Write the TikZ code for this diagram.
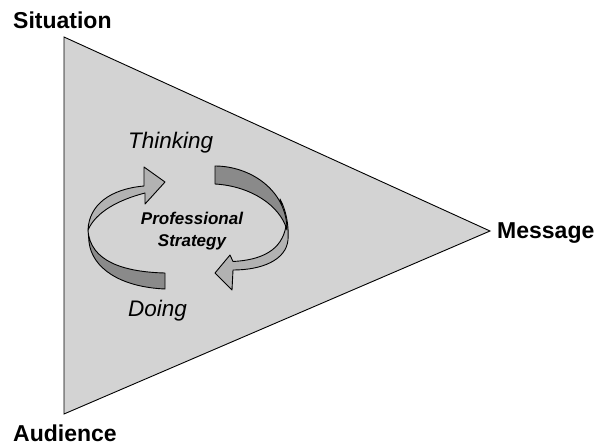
\documentclass[tikz,border=0pt]{standalone}
\usepackage{fontspec}
\setmainfont{Liberation Sans}
\usetikzlibrary{positioning}
\definecolor{plane}{RGB}{211,211,211}
\definecolor{lightband}{RGB}{178,178,178}
\definecolor{darkband}{RGB}{138,138,138}

\begin{document}
\begin{tikzpicture}[x=1pt, y=-1pt]
\tikzstyle{corner} = [font=\fontsize{23}{23}\selectfont\bfseries, inner sep=0pt, anchor=base west]
\tikzstyle{phase} = [font=\fontsize{22.5}{23}\selectfont\itshape, inner sep=0pt, anchor=base west]
\tikzstyle{core} = [font=\fontsize{17}{22}\selectfont\bfseries\itshape, align=center, inner sep=0pt]
\tikzstyle{lightpart} = [fill=lightband, draw=black, line width=0.9pt, line join=round]
\tikzstyle{darkpart} = [fill=darkband, draw=black, line width=0.9pt, line join=round]

\useasboundingbox (0,0) rectangle (601,447);

    % triangle
    \coordinate (top) at (64,37);
    \coordinate (bottom) at (64,414);
    \coordinate (tip) at (490,231);
    \draw [fill=plane, line width=0.9pt] (top) -- (tip) -- (bottom) -- cycle;

    % Place nodes
    \node [corner] (situation) at (13,28) {Situation};
    \node [corner] (audience) at (13,441) {Audience};
    \node [corner] (message) at (497,238.5) {Message};
    \node [phase] (thinking) at (128,148.5) {Thinking};
    \node [phase] (doing) at (128,316.5) {Doing};
    \node [core] (strategy) at (192,231) {Professional\\Strategy};

    % left arrow, doing -> thinking
    \draw [darkpart] (88,230) .. controls (90,262) and (125,272) .. (165,273)
        -- (165,289) .. controls (120,287) and (92,268) .. (89,242) -- cycle;
    \draw [lightpart] (88,230) .. controls (89,205) and (110,189) .. (144,186)
        -- (144,167) -- (165,182) -- (145,204) -- (145,193)
        .. controls (118,200) and (96,212) .. (88,230) -- cycle;

    % right arrow, thinking -> doing
    \draw [lightpart] (280,199) .. controls (286,210) and (289,225) .. (288,240)
        .. controls (286,260) and (262,270) .. (233,270)
        -- (232,290) -- (215,273) -- (230,255) -- (233,261.5)
        .. controls (262,260) and (282,250) .. (286,226) -- cycle;
    \draw [darkpart] (215,166) .. controls (250,166) and (287,190) .. (287,230)
        .. controls (280,205) and (250,186) .. (215,184) -- cycle;

\end{tikzpicture}
\end{document}
